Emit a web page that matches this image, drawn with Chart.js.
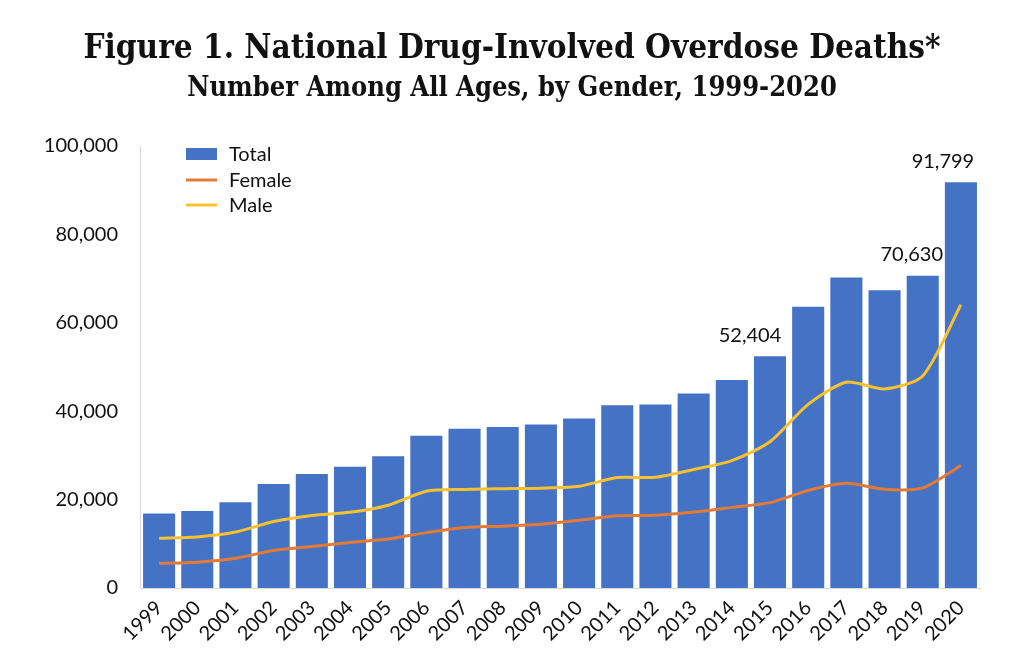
<!DOCTYPE html>
<html>
<head>
<meta charset="utf-8">
<script src="https://cdn.jsdelivr.net/npm/chart.js@4.4.1/dist/chart.umd.min.js"></script>
<style>
  html, body { margin: 0; padding: 0; background: #ffffff; }
  #wrap { width: 1024px; height: 670px; position: relative; }
</style>
</head>
<body>
<div id="wrap"><canvas id="c" width="1024" height="670"></canvas></div>
<script>
const years = ['1999','2000','2001','2002','2003','2004','2005','2006','2007','2008','2009','2010','2011','2012','2013','2014','2015','2016','2017','2018','2019','2020'];
const totalDeaths = [16849,17415,19394,23518,25785,27424,29813,34425,36010,36450,37004,38329,41340,41502,43982,47055,52404,63632,70237,67367,70630,91799];
const femaleDeaths = [5591,5852,6736,8490,9386,10304,11089,12532,13712,13982,14411,15323,16352,16466,17183,18243,19313,22074,23685,22333,22645,27729];
const maleDeaths = [11258,11563,12658,15028,16399,17120,18724,21893,22298,22468,22593,23006,24988,25036,26799,28812,33091,41558,46552,45034,47985,64070];
const labelledYears = ['2015','2019','2020'];
const yTicks = [0,20000,40000,60000,80000,100000];
const titleText = 'Figure 1. National Drug-Involved Overdose Deaths*';
const subtitleText = 'Number Among All Ages, by Gender, 1999-2020';

const BLUE = '#4472C4', ORANGE = '#E57A35', YELLOW = '#F7C130';
const fmt = v => v.toLocaleString('en-US');
// horizontal nudge of each value label (style only)
const labelShift = { '2015': -20, '2019': -11, '2020': -18 };

const legendPlugin = {
  id: 'insideLegend',
  afterDraw(chart) {
    const ctx = chart.ctx, ca = chart.chartArea;
    const x0 = ca.left + 46, items = chart.data.datasets;
    const rows = [ca.top + 8, ca.top + 34, ca.top + 59];
    ctx.save();
    ctx.font = '20px Lato, "Open Sans", sans-serif';
    ctx.textBaseline = 'middle';
    items.forEach((ds, i) => {
      const y = rows[i];
      if (ds.type === 'bar') {
        ctx.fillStyle = ds.backgroundColor;
        ctx.fillRect(x0, y - 6, 31, 12);
      } else {
        ctx.strokeStyle = ds.borderColor;
        ctx.lineWidth = 3;
        ctx.beginPath(); ctx.moveTo(x0, y); ctx.lineTo(x0 + 31, y); ctx.stroke();
      }
      ctx.fillStyle = '#111';
      ctx.fillText(ds.label, x0 + 43, y + 1);
    });
    ctx.restore();
  }
};

const valueLabelPlugin = {
  id: 'valueLabels',
  afterDatasetsDraw(chart) {
    const ctx = chart.ctx;
    const meta = chart.getDatasetMeta(0);
    ctx.save();
    ctx.font = '20px Lato, "Open Sans", sans-serif';
    ctx.fillStyle = '#111';
    ctx.textAlign = 'center';
    ctx.textBaseline = 'bottom';
    years.forEach((yr, i) => {
      if (!labelledYears.includes(yr)) return;
      const el = meta.data[i];
      ctx.fillText(fmt(totalDeaths[i]), el.x + (labelShift[yr] || 0), el.y - 11);
    });
    ctx.restore();
  }
};

new Chart(document.getElementById('c'), {
  data: {
    labels: years,
    datasets: [
      { type: 'bar', label: 'Total', data: totalDeaths, backgroundColor: BLUE, order: 2,
        categoryPercentage: 1.0, barPercentage: 0.84 },
      { type: 'line', label: 'Female', data: femaleDeaths, borderColor: ORANGE, backgroundColor: ORANGE,
        borderWidth: 3, pointRadius: 0, tension: 0.25, order: 1 },
      { type: 'line', label: 'Male', data: maleDeaths, borderColor: YELLOW, backgroundColor: YELLOW,
        borderWidth: 3, pointRadius: 0, tension: 0.25, order: 0 }
    ]
  },
  options: {
    responsive: false,
    animation: false,
    layout: { padding: { left: 44, right: 44, top: 30, bottom: 0 } },
    plugins: {
      legend: { display: false },
      tooltip: { enabled: false },
      title: { display: true, text: titleText, color: '#111',
        font: { family: '"DejaVu Serif Condensed", "DejaVu Serif", serif', size: 33, weight: 'bold' },
        padding: { top: 0, bottom: 3 } },
      subtitle: { display: true, text: subtitleText, color: '#111',
        font: { family: '"DejaVu Serif Condensed", "DejaVu Serif", serif', size: 27, weight: 'bold' },
        padding: { top: 0, bottom: 41 } }
    },
    scales: {
      x: {
        grid: { display: false, drawTicks: false },
        border: { display: true, color: '#d9d9d9', width: 1 },
        ticks: { color: '#111', font: { family: 'Lato, "Open Sans", sans-serif', size: 20 },
          maxRotation: 45, minRotation: 45, autoSkip: false, padding: 8 },
        afterFit(s) { s.height = 82; }
      },
      y: {
        min: 0, max: 100000,
        afterBuildTicks(s) { s.ticks = yTicks.map(v => ({ value: v })); },
        grid: { display: false, drawTicks: false },
        border: { display: true, color: '#d9d9d9', width: 1 },
        ticks: { color: '#111', font: { family: 'Lato, "Open Sans", sans-serif', size: 20 },
          padding: 22, callback: v => fmt(v) },
        afterFit(s) { s.width = 96; }
      }
    }
  },
  plugins: [legendPlugin, valueLabelPlugin]
});
</script>
</body>
</html>
